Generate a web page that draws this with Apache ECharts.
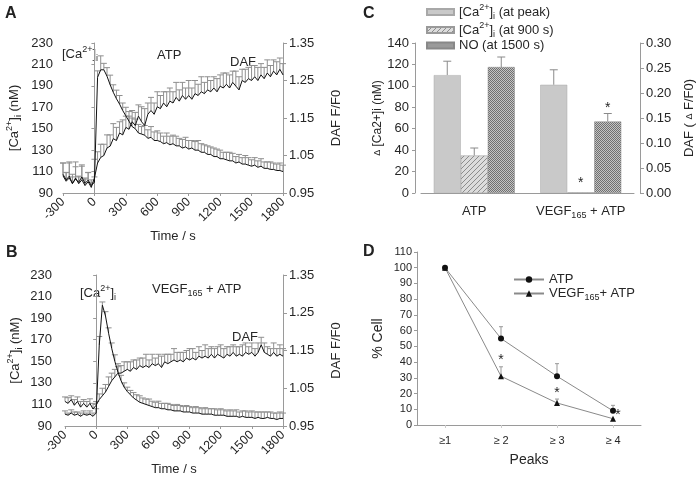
<!DOCTYPE html>
<html><head><meta charset="utf-8">
<script src="https://cdn.jsdelivr.net/npm/echarts@6/dist/echarts.min.js"></script>
<style>html,body{margin:0;padding:0;background:#fff}#c{width:698px;height:477px}</style>
</head><body><div id="c"></div><script>
// ---------- data ----------
const timeS = [-300,-270,-240,-210,-180,-150,-120,-90,-60,-30,0,30,60,90,120,150,180,210,240,270,300,330,360,390,420,450,480,510,540,570,600,630,660,690,720,750,780,810,840,870,900,930,960,990,1020,1050,1080,1110,1140,1170,1200,1230,1260,1290,1320,1350,1380,1410,1440,1470,1500,1530,1560,1590,1620,1650,1680,1710,1740,1770,1800];

// Panel A (ATP)
const caA = [106,101,104,99,103,100,105,99,102,97,100,
  198,205,205,199,191,184,178,173,167,162,157,
  152,150,146,145,144,141,142,139,139,138,136,137,135,136,134,134,132,133,131,132,130,130,128,128,126,126,124,124,122,122,121,120,120,118,119,117,117,116,115,116,114,115,113,113,112,112,111,111,110];
const caAErr = [12,8,15,6,16,5,10,4,7,3,5,
  6,13,6,8,9,7,8,8,7,8,9,
  8,9,8,7,9,8,10,8,9,8,7,9,8,8,9,7,8,9,8,7,8,9,8,7,8,7,8,7,8,6,7,8,7,6,7,6,8,7,6,7,6,7,6,6,7,6,6,7,6];
const dafA = [1.00,0.985,0.995,0.975,0.99,0.975,0.985,0.97,0.98,0.965,0.99,
  1.03,1.045,1.05,1.07,1.075,1.095,1.09,1.11,1.105,1.125,1.12,
  1.14,1.13,1.155,1.14,1.13,1.16,1.17,1.16,1.18,1.175,1.19,1.18,1.195,1.19,1.205,1.195,1.21,1.20,1.21,1.20,1.215,1.21,1.22,1.215,1.225,1.22,1.23,1.22,1.235,1.23,1.24,1.23,1.245,1.235,1.225,1.25,1.245,1.255,1.25,1.26,1.25,1.265,1.255,1.27,1.26,1.275,1.265,1.28,1.265];
const dafAErr = [0.03,0.02,0.035,0.025,0.03,0.02,0.04,0.02,0.025,0.02,0.05,
  0.03,0.035,0.03,0.035,0.03,0.04,0.035,0.03,0.04,0.03,0.035,
  0.03,0.035,0.03,0.04,0.045,0.03,0.035,0.03,0.04,0.035,0.03,0.04,0.035,0.03,0.04,0.03,0.035,0.03,0.04,0.03,0.035,0.03,0.04,0.03,0.035,0.03,0.03,0.035,0.03,0.04,0.03,0.035,0.03,0.04,0.035,0.03,0.035,0.03,0.04,0.03,0.035,0.03,0.03,0.035,0.03,0.03,0.035,0.03,0.03];

// Panel B (VEGF165 + ATP)
const caB = [101,100,102,100,101,99,101,100,101,99,102,
  165,202,192,176,162,150,140,132,126,122,119,
  116,114,112,111,110,109,108,107,107,106,106,105,105,104,104,104,103,103,103,102,102,102,101,101,101,101,100,100,100,100,99,99,99,99,98,99,98,98,98,97,98,97,97,98,97,97,96,97,97];
const caBErr = [3,2,3,3,2,3,3,2,3,3,4,
  8,3,4,5,5,6,5,5,4,4,4,
  5,5,6,5,5,6,5,5,6,5,5,6,5,5,6,5,5,6,5,5,6,5,5,6,5,5,6,5,6,5,5,6,5,6,5,5,6,5,6,6,5,6,6,5,6,5,6,6,5];
const dafB = [1.015,1.01,1.02,1.005,1.015,1.0,1.01,1.0,1.01,0.995,1.005,
  1.02,1.03,1.04,1.055,1.07,1.08,1.09,1.09,1.095,1.10,1.095,
  1.105,1.10,1.11,1.105,1.11,1.105,1.115,1.11,1.115,1.105,1.12,1.115,1.12,1.125,1.12,1.125,1.12,1.13,1.125,1.13,1.125,1.135,1.13,1.135,1.13,1.14,1.13,1.14,1.135,1.13,1.14,1.135,1.145,1.135,1.14,1.135,1.145,1.14,1.145,1.135,1.145,1.165,1.145,1.14,1.135,1.145,1.135,1.14,1.135];
const dafBErr = [0.012,0.015,0.01,0.015,0.012,0.015,0.01,0.015,0.012,0.015,0.01,
  0.015,0.02,0.02,0.025,0.02,0.02,0.025,0.02,0.025,0.02,0.025,
  0.02,0.025,0.02,0.025,0.03,0.02,0.025,0.02,0.025,0.03,0.02,0.025,0.02,0.03,0.025,0.02,0.025,0.02,0.03,0.025,0.02,0.025,0.02,0.03,0.025,0.02,0.025,0.02,0.03,0.025,0.02,0.025,0.02,0.025,0.02,0.03,0.025,0.02,0.025,0.02,0.025,0.02,0.025,0.02,0.02,0.025,0.02,0.025,0.02];

// Panel C
const cCats = ['ATP', 'VEGF165 + ATP'];
const cPeak = [110, 101];
const cPeakErr = [13, 14];
const c900 = [35, 0.6];
const c900Err = [7, 0];
const cNO = [0.252, 0.143];
const cNOErr = [0.020, 0.016];
const cStar900 = [null, 9];      // left axis (nM)
const cStarNO = [null, 0.17];    // right axis (ΔF/F0)

// Panel D
const dCats = ['≥1', '≥ 2', '≥ 3', '≥ 4'];
const dATP = [100, 55, 31, 9];
const dATPErr = [0, 7.5, 8, 3.5];
const dVEGF = [100, 31, 14, 4];
const dVEGFErr = [0, 6, 2.5, 0];
const dStar = [null, 41, 20, 6];

// ---------- styles ----------
const FONT = 'Liberation Sans, Arial, Helvetica, sans-serif';
const TXT = '#262626';
const AX = '#9a9a9a';
const rich = {
  sup: {fontSize: 9, fontFamily: FONT, color: TXT, verticalAlign: 'top', lineHeight: 18},
  sub: {fontSize: 9, fontFamily: FONT, color: TXT, verticalAlign: 'bottom', lineHeight: 18},
  n: {fontSize: 13, fontFamily: FONT, color: TXT, lineHeight: 18}
};

function hatchCanvas() {
  const c = document.createElement('canvas'); c.width = 5; c.height = 5;
  const g = c.getContext('2d');
  g.fillStyle = '#dcdcdc'; g.fillRect(0, 0, 5, 5);
  g.strokeStyle = '#8c8c8c'; g.lineWidth = 1;
  g.beginPath(); g.moveTo(-1, 6); g.lineTo(6, -1); g.moveTo(-1, 1); g.lineTo(1, -1); g.moveTo(4, 6); g.lineTo(6, 4); g.stroke();
  return c;
}
function crossCanvas() {
  const c = document.createElement('canvas'); c.width = 4; c.height = 4;
  const g = c.getContext('2d');
  g.fillStyle = '#c4c4c4'; g.fillRect(0, 0, 4, 4);
  g.fillStyle = '#707070';
  g.fillRect(0, 0, 1, 1); g.fillRect(2, 0, 1, 1); g.fillRect(1, 1, 1, 1); g.fillRect(3, 1, 1, 1);
  g.fillRect(0, 2, 1, 1); g.fillRect(2, 2, 1, 1); g.fillRect(1, 3, 1, 1); g.fillRect(3, 3, 1, 1);
  return c;
}

function errRender(cap, color, dx) {
  return function (params, api) {
    const e = api.value(2);
    if (!(e > 0)) return;
    const x = api.value(0), y = api.value(1);
    const p0 = api.coord([x, y]), p1 = api.coord([x, y + e]);
    const ox = p0[0] + (dx || 0);
    return {type: 'group', children: [
      {type: 'line', shape: {x1: ox, y1: p0[1], x2: ox, y2: p1[1]}, style: {stroke: color, lineWidth: 1}},
      {type: 'line', shape: {x1: ox - cap / 2, y1: p1[1], x2: ox + cap / 2, y2: p1[1]}, style: {stroke: color, lineWidth: 1}}
    ]};
  };
}
function starRender(dx) {
  return function (params, api) {
    const v = api.value(1);
    if (v == null || isNaN(v)) return;
    const p = api.coord([api.value(0), v]);
    return {type: 'text', x: p[0] + dx, y: p[1], style: {text: '*', fill: TXT, font: '14px ' + FONT, align: 'center', verticalAlign: 'middle', textAlign: 'center', textVerticalAlign: 'middle'}};
  };
}

function timeX(grid) {
  return {type: 'value', gridIndex: grid, min: -300, max: 1800, interval: 300,
    name: 'Time / s', nameLocation: 'middle', nameGap: 37,
    nameTextStyle: {fontSize: 13, fontFamily: FONT, color: TXT},
    axisLine: {show: true, lineStyle: {color: AX}}, axisTick: {show: true, length: 3, lineStyle: {color: AX}},
    axisLabel: {rotate: 45, fontSize: 12.5, fontFamily: FONT, color: TXT, margin: 7, formatter: v => String(v)},
    splitLine: {show: false}};
}
function caY(grid, off, gap) {
  return {type: 'value', gridIndex: grid, min: 90, max: 230, interval: 20, position: 'left', offset: off,
    name: '[Ca{sup|2+}]{sub|i}{n| (nM)}', nameLocation: 'middle', nameGap: gap, nameRotate: 90,
    nameTextStyle: {fontSize: 13, fontFamily: FONT, color: TXT, rich: rich},
    axisLine: {show: true, lineStyle: {color: AX}}, axisTick: {show: true, length: 3, lineStyle: {color: AX}},
    axisLabel: {fontSize: 13, fontFamily: FONT, color: TXT, margin: 6},
    splitLine: {show: false}};
}
function dafY(grid) {
  return {type: 'value', gridIndex: grid, min: 0.95, max: 1.35, interval: 0.1, position: 'right',
    name: 'DAF F/F0', nameLocation: 'middle', nameGap: 47, nameRotate: 90,
    nameTextStyle: {fontSize: 13, fontFamily: FONT, color: TXT},
    axisLine: {show: true, lineStyle: {color: AX}}, axisTick: {show: true, length: 4, lineStyle: {color: AX}},
    axisLabel: {fontSize: 13, fontFamily: FONT, color: TXT, margin: 6, formatter: v => v.toFixed(2)},
    splitLine: {show: false}};
}

const series = [];
function traceSet(xi, yl, yr, ca, caErr, daf, dafErr) {
  series.push({type: 'custom', xAxisIndex: xi, yAxisIndex: yl, z: 1, silent: true, clip: false,
    renderItem: errRender(6, '#8f8f8f'), data: timeS.map((t, i) => [t, ca[i], caErr[i]])});
  series.push({type: 'custom', xAxisIndex: xi, yAxisIndex: yr, z: 1, silent: true, clip: false,
    renderItem: errRender(6, '#8f8f8f'), data: timeS.map((t, i) => [t, daf[i], dafErr[i]])});
  series.push({type: 'line', xAxisIndex: xi, yAxisIndex: yl, z: 3, showSymbol: false, symbol: 'none',
    lineStyle: {color: '#111', width: 1}, data: timeS.map((t, i) => [t, ca[i]])});
  series.push({type: 'line', xAxisIndex: xi, yAxisIndex: yr, z: 3, showSymbol: false, symbol: 'none',
    lineStyle: {color: '#111', width: 1}, data: timeS.map((t, i) => [t, daf[i]])});
}
traceSet(0, 0, 1, caA, caAErr, dafA, dafAErr);
traceSet(1, 2, 3, caB, caBErr, dafB, dafBErr);

// Panel C bars
const BW = 27;
series.push({type: 'bar', name: 'peak', xAxisIndex: 2, yAxisIndex: 4, barWidth: BW, barGap: '0%',
  itemStyle: {color: '#c9c9c9', borderColor: '#a8a8a8', borderWidth: 0.5}, data: cPeak});
series.push({type: 'bar', name: 's900', xAxisIndex: 2, yAxisIndex: 4, barWidth: BW, barGap: '0%',
  itemStyle: {color: {image: hatchCanvas(), repeat: 'repeat'}, borderColor: '#9a9a9a', borderWidth: 0.5}, data: c900});
series.push({type: 'bar', name: 'no', xAxisIndex: 2, yAxisIndex: 5, barWidth: BW, barGap: '0%',
  itemStyle: {color: {image: crossCanvas(), repeat: 'repeat'}, borderColor: '#888', borderWidth: 0.5}, data: cNO});
series.push({type: 'custom', xAxisIndex: 2, yAxisIndex: 4, z: 1, silent: true, clip: false,
  renderItem: errRender(8, '#8a8a8a', -BW), data: cPeak.map((v, i) => [i, v, cPeakErr[i]])});
series.push({type: 'custom', xAxisIndex: 2, yAxisIndex: 4, z: 1, silent: true, clip: false,
  renderItem: errRender(8, '#8a8a8a', 0), data: c900.map((v, i) => [i, v, c900Err[i]])});
series.push({type: 'custom', xAxisIndex: 2, yAxisIndex: 5, z: 1, silent: true, clip: false,
  renderItem: errRender(8, '#8a8a8a', BW), data: cNO.map((v, i) => [i, v, cNOErr[i]])});
series.push({type: 'custom', xAxisIndex: 2, yAxisIndex: 4, z: 4, silent: true, clip: false,
  renderItem: starRender(0), data: cStar900.map((v, i) => [i, v])});
series.push({type: 'custom', xAxisIndex: 2, yAxisIndex: 5, z: 4, silent: true, clip: false,
  renderItem: starRender(BW), data: cStarNO.map((v, i) => [i, v])});

// Panel D
series.push({type: 'custom', xAxisIndex: 3, yAxisIndex: 6, z: 1, silent: true, clip: false,
  renderItem: errRender(4, '#999', 0), data: dATP.map((v, i) => [i, v, dATPErr[i]])});
series.push({type: 'custom', xAxisIndex: 3, yAxisIndex: 6, z: 1, silent: true, clip: false,
  renderItem: errRender(4, '#999', 0), data: dVEGF.map((v, i) => [i, v, dVEGFErr[i]])});
series.push({type: 'line', name: 'ATP', xAxisIndex: 3, yAxisIndex: 6, symbol: 'circle', symbolSize: 6,
  itemStyle: {color: '#111'}, lineStyle: {color: '#8a8a8a', width: 1}, data: dATP});
series.push({type: 'line', name: 'VEGF', xAxisIndex: 3, yAxisIndex: 6, symbol: 'triangle', symbolSize: 6,
  itemStyle: {color: '#111'}, lineStyle: {color: '#8a8a8a', width: 1}, data: dVEGF});
series.push({type: 'custom', xAxisIndex: 3, yAxisIndex: 6, z: 4, silent: true, clip: false,
  renderItem: (function () {
    const base = starRender(0), side = starRender(5);
    return function (p, api) { return api.value(0) === 3 ? side(p, api) : base(p, api); };
  })(), data: dStar.map((v, i) => [i, v])});

const txt = (t, l, tp) => ({type: 'text', left: l, top: tp, silent: true,
  style: {text: t, rich: rich, fontSize: 13, fontFamily: FONT, fill: TXT}});

const option = {
  animation: false,
  backgroundColor: '#fff',
  textStyle: {fontFamily: FONT},
  title: [
    {text: 'A', left: 5, top: 6, padding: 0, textStyle: {fontSize: 16, fontWeight: 'bold', color: '#222', fontFamily: FONT}},
    {text: 'B', left: 6, top: 245, padding: 0, textStyle: {fontSize: 16, fontWeight: 'bold', color: '#222', fontFamily: FONT}},
    {text: 'C', left: 363, top: 6, padding: 0, textStyle: {fontSize: 16, fontWeight: 'bold', color: '#222', fontFamily: FONT}},
    {text: 'D', left: 363, top: 244, padding: 0, textStyle: {fontSize: 16, fontWeight: 'bold', color: '#222', fontFamily: FONT}}
  ],
  legend: [
    {data: ['peak', 's900', 'no'], orient: 'vertical', left: 426, top: 3, itemWidth: 27, itemHeight: 6, itemGap: 0,
      padding: 0, selectedMode: false, icon: 'rect',
      formatter: n => ({peak: '{n|[Ca}{sup|2+}{n|]}{sub|i}{n| (at peak)}', s900: '{n|[Ca}{sup|2+}{n|]}{sub|i}{n| (at 900 s)}', no: '{n|NO (at 1500 s)}'}[n]),
      textStyle: {fontSize: 13, color: TXT, fontFamily: FONT, rich: rich}},
    {data: ['ATP', 'VEGF'], orient: 'vertical', left: 513, top: 273, itemWidth: 30, itemHeight: 8, itemGap: 1,
      padding: 0, selectedMode: false,
      formatter: n => n === 'ATP' ? '{n|ATP}' : '{n|VEGF}{sub|165}{n|+ ATP}',
      textStyle: {fontSize: 13, color: TXT, fontFamily: FONT, rich: rich}}
  ],
  grid: [
    {left: 63, top: 43, width: 220, height: 150},
    {left: 65, top: 275, width: 218, height: 151},
    {left: 421, top: 43, width: 213, height: 150},
    {left: 417, top: 252, width: 224, height: 173}
  ],
  xAxis: [
    timeX(0),
    timeX(1),
    {type: 'category', gridIndex: 2, data: cCats,
      axisLine: {show: true, lineStyle: {color: AX}}, axisTick: {show: false},
      axisLabel: {interval: 0, fontSize: 13, fontFamily: FONT, color: TXT, margin: 9, rich: rich,
        formatter: v => v === 'ATP' ? '{n|ATP}' : '{n|VEGF}{sub|165}{n| + ATP}'}},
    {type: 'category', gridIndex: 3, data: dCats, name: 'Peaks', nameLocation: 'middle', nameGap: 28,
      nameTextStyle: {fontSize: 14, fontFamily: FONT, color: TXT},
      axisLine: {show: true, lineStyle: {color: AX}}, axisTick: {show: true, alignWithLabel: true, length: 3, lineStyle: {color: '#ccc'}},
      axisLabel: {interval: 0, fontSize: 11, fontFamily: FONT, color: TXT, margin: 10}}
  ],
  yAxis: [
    caY(0, 4, 36), dafY(0),
    caY(1, 7, 34), dafY(1),
    {type: 'value', gridIndex: 2, min: 0, max: 140, interval: 20, position: 'left', offset: 6,
      name: '{d|Δ} [Ca2+]i (nM)', nameLocation: 'middle', nameGap: 29, nameRotate: 90,
      nameTextStyle: {fontSize: 12, fontFamily: FONT, color: TXT, rich: {d: {fontSize: 9, color: TXT}}},
      axisLine: {show: true, lineStyle: {color: AX}}, axisTick: {show: true, length: 3, lineStyle: {color: AX}},
      axisLabel: {fontSize: 13, fontFamily: FONT, color: TXT, margin: 6}, splitLine: {show: false}},
    {type: 'value', gridIndex: 2, min: 0, max: 0.30, interval: 0.05, position: 'right', offset: 6,
      name: 'DAF ( {d|Δ} F/F0)', nameLocation: 'middle', nameGap: 43, nameRotate: 90,
      nameTextStyle: {fontSize: 13, fontFamily: FONT, color: TXT, rich: {d: {fontSize: 9, color: TXT}}},
      axisLine: {show: true, lineStyle: {color: AX}}, axisTick: {show: true, length: 4, lineStyle: {color: AX}},
      axisLabel: {fontSize: 13, fontFamily: FONT, color: TXT, margin: 6, formatter: v => v.toFixed(2)}, splitLine: {show: false}},
    {type: 'value', gridIndex: 3, min: 0, max: 110, interval: 10, position: 'left',
      name: '% Cell', nameLocation: 'middle', nameGap: 32, nameRotate: 90,
      nameTextStyle: {fontSize: 14, fontFamily: FONT, color: TXT},
      axisLine: {show: true, lineStyle: {color: AX}}, axisTick: {show: true, length: 3, lineStyle: {color: AX}},
      axisLabel: {fontSize: 11, fontFamily: FONT, color: TXT, margin: 5}, splitLine: {show: false}}
  ],
  graphic: [
    txt('{n|[Ca}{sup|2+}{n|]}{sub|i}', 62, 45),
    txt('{n|ATP}', 157, 49),
    txt('{n|DAF}', 230, 56),
    txt('{n|[Ca}{sup|2+}{n|]}{sub|i}', 80, 284),
    txt('{n|VEGF}{sub|165}{n| + ATP}', 152, 283),
    txt('{n|DAF}', 232, 331)
  ],
  series: series
};
const chart = echarts.init(document.getElementById('c'), null, {renderer: 'canvas'});
chart.setOption(option);
</script></body></html>
